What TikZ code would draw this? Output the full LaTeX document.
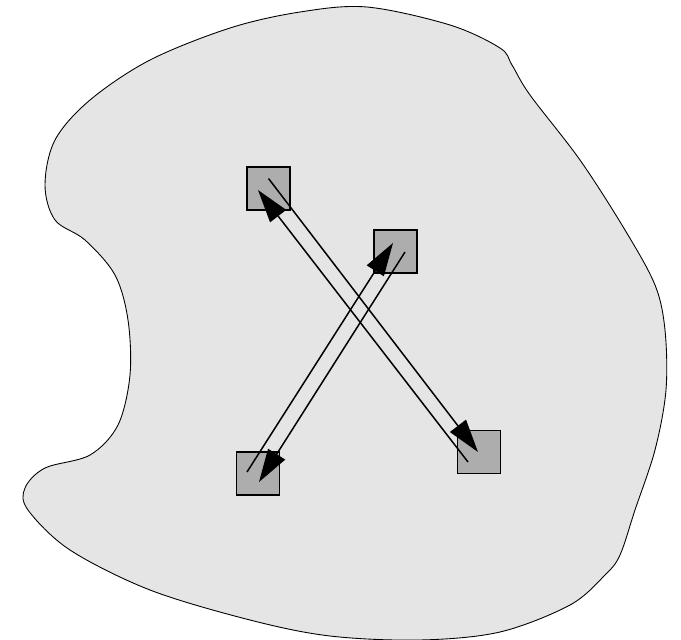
\documentclass[tikz,border=0pt]{standalone}
\usepackage{tikz}
\usetikzlibrary{arrows.meta, calc}

\begin{document}
\begin{tikzpicture}[
  x=0.02cm, y=-0.02cm,
  cell/.style={draw, line width=1.1pt, rectangle, minimum size=0.86cm, inner sep=0pt, fill=black!32},
  jump/.style={line width=0.85pt, -{Triangle[length=0.66cm, width=0.4cm]}},
]
\useasboundingbox (0,0) rectangle (681,640);

% Region outline
\draw[line width=0.5pt, fill=black!10] plot[smooth cycle, tension=0.55] coordinates {
  (367,7) (450,25) (500,48) (512,65) (530,95) (580,160) (625,230) (655,285)
  (665,330) (666,390) (655,450) (635,510) (620,555) (605,575) (570,605)
  (500,632) (420,640) (330,636) (250,620) (150,590) (70,550) (28,510)
  (25,488) (45,468) (90,455) (118,425) (130,375) (128,320) (115,275)
  (85,240) (55,220) (45,185) (55,140) (90,100) (150,60) (230,28) (300,12)};

% Four cells
\node[cell] (nw) at (268.5,188.5) {};
\node[cell] (ne) at (395.5,251.5) {};
\node[cell] (sw) at (258,473.5) {};
\node[cell] (se) at (479,452) {};

% Paired jumps across the region
\draw[jump] ($(nw)+(0,-10)$) -- ($(se)+(-1,0)$);
\draw[jump] ($(se)+(-11,10)$) -- ($(nw)+(-10.5,1.5)$);
\draw[jump] ($(sw)+(-11,-1.5)$) -- ($(ne)+(-2.5,-8.5)$);
\draw[jump] ($(ne)+(9.5,0.5)$) -- ($(sw)+(1,8.5)$);
\end{tikzpicture}
\end{document}
